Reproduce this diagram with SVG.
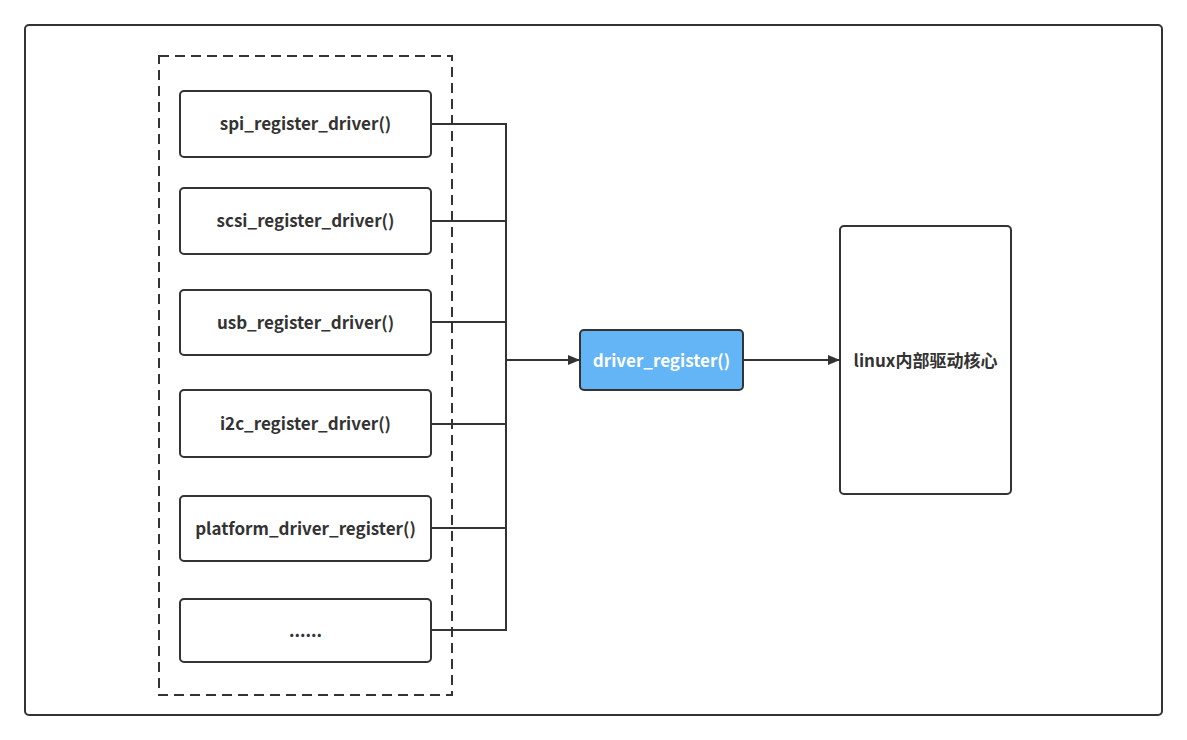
<svg xmlns="http://www.w3.org/2000/svg" width="1187" height="740" viewBox="0 0 1187 740">
<style>
.box{fill:#fff;stroke:#333;stroke-width:2}
.lbl{font-family:"Noto Sans CJK SC","Noto Sans",sans-serif;font-weight:bold;font-size:17px;fill:#333;text-anchor:middle;dominant-baseline:central}
.wire{fill:none;stroke:#333;stroke-width:2}
</style>
<defs>
<marker id="arr" markerWidth="12" markerHeight="10" refX="12" refY="5" orient="auto" markerUnits="userSpaceOnUse">
<path d="M0,0 L12,5 L0,10 Z" fill="#333"/>
</marker>
</defs>
<rect x="0" y="0" width="1187" height="740" fill="#fff"/>
<g id="frame"><rect x="25" y="25" width="1137" height="690" rx="4" class="box"/></g>
<g id="group"><rect x="159" y="56" width="293" height="639" fill="none" stroke="#333" stroke-width="2" stroke-dasharray="10,6"/></g>
<g id="connectors">
<path class="wire" d="M431,124 H506 V630 H431"/>
<path class="wire" d="M431,221 H506"/>
<path class="wire" d="M431,322 H506"/>
<path class="wire" d="M431,424 H506"/>
<path class="wire" d="M431,528 H506"/>
<path class="wire" d="M506,360 H580" stroke-width="3" marker-end="url(#arr)"/>
<path class="wire" d="M743,360 H840" marker-end="url(#arr)"/>
</g>
<g id="n1"><rect x="180" y="91" width="251" height="66" rx="4" class="box"/><text x="305.5" y="122.5" class="lbl">spi_register_driver()</text></g>
<g id="n2"><rect x="180" y="188" width="251" height="66" rx="4" class="box"/><text x="305.5" y="219.5" class="lbl">scsi_register_driver()</text></g>
<g id="n3"><rect x="180" y="290" width="251" height="65" rx="4" class="box"/><text x="305.5" y="321" class="lbl">usb_register_driver()</text></g>
<g id="n4"><rect x="180" y="390" width="251" height="67" rx="4" class="box"/><text x="305.5" y="422" class="lbl">i2c_register_driver()</text></g>
<g id="n5"><rect x="180" y="496" width="251" height="65" rx="4" class="box"/><text x="305.5" y="527" class="lbl">platform_driver_register()</text></g>
<g id="n6"><rect x="180" y="599" width="251" height="63" rx="4" class="box"/><text x="305.5" y="629" class="lbl">......</text></g>
<g id="core"><rect x="580" y="330" width="163" height="60" rx="4" fill="#64b5f6" stroke="#333" stroke-width="2"/><text x="661.5" y="359" class="lbl" style="fill:#fff">driver_register()</text></g>
<g id="kernel"><rect x="840" y="226" width="171" height="268" rx="4" class="box"/><text x="925.5" y="359" class="lbl">linux内部驱动核心</text></g>
</svg>
